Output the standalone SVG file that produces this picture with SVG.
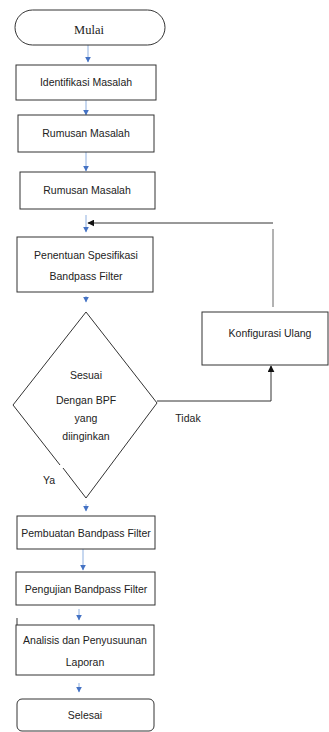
<svg xmlns="http://www.w3.org/2000/svg" width="329" height="732" viewBox="0 0 329 732">
<defs>
<style>
.box{fill:#fff;stroke:#333;stroke-width:1}
.t{font-family:"Liberation Sans",Arial,sans-serif;font-size:10.5px;fill:#222;text-anchor:middle}
.serif{font-family:"Liberation Serif","Times New Roman",serif;font-size:12.5px;fill:#222;text-anchor:middle}
.blue{stroke:#8fb0e0;stroke-width:1;fill:none}
.blk{stroke:#333;stroke-width:1;fill:none}
</style>
<marker id="bh" viewBox="0 0 10 10" refX="9" refY="5" markerWidth="6" markerHeight="6" orient="auto" markerUnits="userSpaceOnUse">
<path d="M0,0 L10,5 L0,10 z" fill="#4472c4"/>
</marker>
<marker id="kh" viewBox="0 0 10 10" refX="9" refY="5" markerWidth="7" markerHeight="7" orient="auto" markerUnits="userSpaceOnUse">
<path d="M0,0 L10,5 L0,10 z" fill="#111"/>
</marker>
</defs>
<rect width="329" height="732" fill="#fff"/>
<g id="connectors">
<line class="blue" x1="88" y1="45" x2="88" y2="62" marker-end="url(#bh)"/>
<line class="blue" x1="86" y1="100" x2="86" y2="115" marker-end="url(#bh)"/>
<line class="blue" x1="86" y1="152" x2="86" y2="171" marker-end="url(#bh)"/>
<line class="blue" x1="86" y1="215" x2="86" y2="232" marker-end="url(#bh)"/>
<line class="blue" x1="86" y1="296" x2="86" y2="302" marker-end="url(#bh)"/>
<line class="blue" x1="86" y1="504" x2="86" y2="511" marker-end="url(#bh)"/>
<line class="blue" x1="83" y1="549" x2="83" y2="570" marker-end="url(#bh)"/>
<line class="blue" x1="79" y1="609" x2="79" y2="620" marker-end="url(#bh)"/>
<line class="blue" x1="79" y1="683" x2="79" y2="692" marker-end="url(#bh)"/>
<polyline class="blk" points="157,401 271,401 271,366" marker-end="url(#kh)"/>
<line x1="273" y1="307" x2="273" y2="229" stroke="#666" stroke-width="1"/>
<line class="blk" x1="273" y1="223" x2="88" y2="223" marker-end="url(#kh)"/>
<line x1="17" y1="618" x2="17" y2="640" stroke="#777" stroke-width="1.5"/>
</g>
<g id="mulai">
<rect class="box" x="15" y="10" width="150" height="35" rx="17.5" ry="17.5"/>
<text class="serif" x="89" y="34">Mulai</text>
</g>
<g id="identifikasi">
<rect class="box" x="16" y="65" width="140" height="35"/>
<text class="t" x="86" y="86">Identifikasi Masalah</text>
</g>
<g id="rumusan1">
<rect class="box" x="18" y="115" width="136" height="37"/>
<text class="t" x="86" y="137">Rumusan Masalah</text>
</g>
<g id="rumusan2">
<rect class="box" x="20" y="172" width="135" height="37"/>
<text class="t" x="87" y="194">Rumusan Masalah</text>
</g>
<g id="penentuan">
<rect class="box" x="17" y="237" width="136" height="55"/>
<text class="t" x="86" y="259">Penentuan Spesifikasi</text>
<text class="t" x="86" y="280">Bandpass Filter</text>
</g>
<g id="sesuai">
<path class="blk" d="M60,465 L13,405 L86,312 L157,403 L86,498 L63,468"/>
<text class="t" x="86" y="379">Sesuai</text>
<text class="t" x="86" y="404">Dengan BPF</text>
<text class="t" x="86" y="422">yang</text>
<text class="t" x="86" y="440">diinginkan</text>
</g>
<g id="konfigurasi">
<rect class="box" x="202" y="312" width="126" height="53"/>
<text class="t" x="270" y="337">Konfigurasi Ulang</text>
</g>
<g id="labels">
<text class="t" x="188" y="422">Tidak</text>
<text class="t" x="49" y="484">Ya</text>
</g>
<g id="pembuatan">
<rect class="box" x="17" y="516" width="138" height="33"/>
<text class="t" x="86" y="537">Pembuatan Bandpass Filter</text>
</g>
<g id="pengujian">
<rect class="box" x="16" y="572" width="139" height="33"/>
<text class="t" x="86" y="593">Pengujian Bandpass Filter</text>
</g>
<g id="analisis">
<rect class="box" x="16" y="625" width="138" height="50"/>
<text class="t" x="85" y="644">Analisis dan Penyusuunan</text>
<text class="t" x="85" y="666">Laporan</text>
</g>
<g id="selesai">
<rect class="box" x="17" y="699" width="137" height="32" rx="5" ry="5"/>
<text class="t" x="85" y="719">Selesai</text>
</g>
</svg>
